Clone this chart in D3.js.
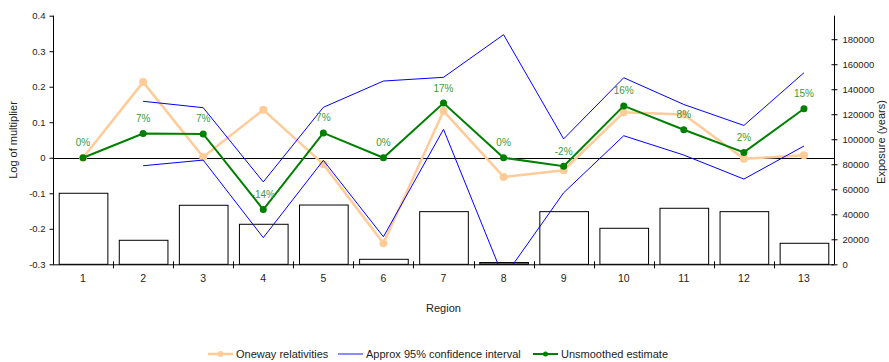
<!DOCTYPE html>
<html>
<head>
<meta charset="utf-8">
<script src="https://cdn.jsdelivr.net/npm/d3@7"></script>
<style>
  html, body { margin: 0; padding: 0; background: #fff; }
  svg { display: block; font-family: "Liberation Sans", Arial, sans-serif; }
</style>
</head>
<body>
<svg id="chart" width="889" height="362"></svg>
<script>
// Region factor analysis: log multipliers with confidence band, exposure as bars
const regions = ["1","2","3","4","5","6","7","8","9","10","11","12","13"];
const exposure = [56800, 19200, 47200, 32000, 47400, 4000, 42100, 1400, 42100, 28800, 44800, 42100, 16800];
const oneway = [0, 0.213, 0.002, 0.135, -0.018, -0.241, 0.1315, -0.054, -0.035, 0.128, 0.122, -0.003, 0.007];
const ciUpper = [null, 0.159, 0.141, -0.068, 0.142, 0.216, 0.2265, 0.3465, 0.053, 0.2254, 0.150, 0.091, 0.2394];
const ciLower = [null, -0.0225, -0.0065, -0.225, -0.0073, -0.2225, 0.080, -0.338, -0.0986, 0.062, 0.0076, -0.060, 0.033];
const unsmoothed = [0, 0.068, 0.067, -0.146, 0.070, 0, 0.154, 0, -0.024, 0.146, 0.079, 0.015, 0.138];
const leftTicks = [-0.3, -0.2, -0.1, 0, 0.1, 0.2, 0.3, 0.4];
const rightTicks = [0, 20000, 40000, 60000, 80000, 100000, 120000, 140000, 160000, 180000];
const legendItems = ["Oneway relativities", "Approx 95% confidence interval", "Unsmoothed estimate"];

const C_ORANGE = "#FFCC99", C_BLUE = "#0000FF", C_GREEN = "#008000", C_LABEL = "#3A9A3A";
const plot = { left: 53, right: 834, top: 15.7, bottom: 264.3 };

const svg = d3.select("#chart");

const x = d3.scaleBand().domain(regions)
  .range([plot.left, plot.right]).paddingInner(0.19).paddingOuter(0.095);
const cx = r => x(r) + x.bandwidth() / 2;
const y = d3.scaleLinear().domain([-0.3, 0.4]).range([plot.bottom, plot.top]);
const y2 = d3.scaleLinear().domain([0, 198800]).range([plot.bottom, plot.top]);

svg.append("defs").append("clipPath").attr("id", "plotClip")
  .append("rect").attr("x", plot.left).attr("y", plot.top)
  .attr("width", plot.right - plot.left).attr("height", plot.bottom - plot.top);

// exposure bars
svg.append("g").selectAll("rect").data(regions).join("rect")
  .attr("x", d => x(d) + 0.5)
  .attr("y", (d, i) => y2(exposure[i]))
  .attr("width", x.bandwidth())
  .attr("height", (d, i) => plot.bottom - y2(exposure[i]))
  .attr("fill", (d, i) => exposure[i] < 3000 ? "#777" : "#fff")
  .attr("stroke", "#000").attr("stroke-width", 1);

// zero reference line
svg.append("line")
  .attr("x1", plot.left).attr("x2", plot.right)
  .attr("y1", Math.round(y(0)) + 0.5).attr("y2", Math.round(y(0)) + 0.5)
  .attr("stroke", "#000").attr("stroke-width", 1);

const lines = svg.append("g").attr("clip-path", "url(#plotClip)");
const lineGen = vals => d3.line()
  .defined((d, i) => vals[i] !== null)
  .x(d => cx(d)).y((d, i) => y(vals[i]))(regions);

// oneway relativities
lines.append("path").attr("d", lineGen(oneway))
  .attr("fill", "none").attr("stroke", C_ORANGE).attr("stroke-width", 2.5);
lines.append("g").selectAll("circle").data(regions).join("circle")
  .attr("cx", d => cx(d)).attr("cy", (d, i) => y(oneway[i])).attr("r", 4)
  .attr("fill", C_ORANGE);

// confidence band
[ciUpper, ciLower].forEach(vals => {
  lines.append("path").attr("d", lineGen(vals))
    .attr("fill", "none").attr("stroke", C_BLUE).attr("stroke-width", 1);
});

// unsmoothed estimate
lines.append("path").attr("d", lineGen(unsmoothed))
  .attr("fill", "none").attr("stroke", C_GREEN).attr("stroke-width", 2);
lines.append("g").selectAll("circle").data(regions).join("circle")
  .attr("cx", d => cx(d)).attr("cy", (d, i) => y(unsmoothed[i])).attr("r", 3.5)
  .attr("fill", C_GREEN);

// percentage change labels
const pct = v => Math.round((Math.exp(v) - 1) * 100) + "%";
svg.append("g").selectAll("text").data(regions).join("text")
  .attr("x", d => cx(d)).attr("y", (d, i) => y(unsmoothed[i]) - 15)
  .attr("text-anchor", "middle").attr("dominant-baseline", "central")
  .attr("font-size", 10).attr("fill", C_LABEL)
  .text((d, i) => pct(unsmoothed[i]));

// left axis
const gl = svg.append("g").attr("transform", `translate(${plot.left + 0.5},0)`)
  .call(d3.axisLeft(y).tickValues(leftTicks).tickSize(4).tickPadding(4)
    .tickFormat(v => v === 0 ? "0" : v.toFixed(1)));
gl.select(".domain").attr("d", `M0,${plot.top}V${plot.bottom}`);

// right axis
const gr = svg.append("g").attr("transform", `translate(${plot.right + 0.5},0)`)
  .call(d3.axisRight(y2).tickValues(rightTicks).tickSize(3).tickPadding(5).tickFormat(d3.format("d")));
gr.select(".domain").attr("d", `M0,${plot.top}V${plot.bottom}`);
gr.selectAll(".tick line").attr("x1", -3);

// bottom axis: labels at centres, tick marks at category boundaries
const gb = svg.append("g").attr("transform", `translate(0,${plot.bottom})`)
  .call(d3.axisBottom(x).tickSize(0).tickPadding(10));
gb.select(".domain").attr("d", `M${plot.left},0.5H${plot.right}`);
const bounds = regions.map(r => x(r) - x.step() * x.paddingInner() / 2).slice(1);
gb.append("g").selectAll("line").data(bounds).join("line")
  .attr("x1", d => Math.round(d) + 0.5).attr("x2", d => Math.round(d) + 0.5)
  .attr("y1", -3).attr("y2", 4).attr("stroke", "#000");

[gl, gr, gb].forEach(g => {
  g.selectAll(".domain").attr("stroke", "#000");
  g.selectAll(".tick line").attr("stroke", "#000");
  g.selectAll(".tick text").attr("font-size", 9.5).attr("fill", "#222")
    .attr("font-family", "Liberation Sans, Arial, sans-serif");
});
gb.selectAll(".tick text").attr("font-size", 10.5);

// axis titles
svg.append("text").attr("x", (plot.left + plot.right) / 2).attr("y", 312)
  .attr("text-anchor", "middle").attr("font-size", 11).attr("fill", "#222").text("Region");
svg.append("text").attr("transform", `translate(17,140) rotate(-90)`)
  .attr("text-anchor", "middle").attr("font-size", 11).attr("fill", "#222").text("Log of multiplier");
svg.append("text").attr("transform", `translate(885,142) rotate(-90)`)
  .attr("text-anchor", "middle").attr("font-size", 11).attr("fill", "#222").text("Exposure (years)");

// legend
const legendX = [208, 338, 533];
const legendStyle = [
  { color: C_ORANGE, w: 2.5, r: 3 },
  { color: "#6666FF", w: 1.5, r: 0 },
  { color: C_GREEN, w: 2, r: 2.5 }
];
const lg = svg.append("g").selectAll("g").data(legendItems).join("g")
  .attr("transform", (d, i) => `translate(${legendX[i]},354)`);
lg.append("line").attr("x1", 0).attr("x2", 25).attr("y1", 0).attr("y2", 0)
  .attr("stroke", (d, i) => legendStyle[i].color).attr("stroke-width", (d, i) => legendStyle[i].w);
lg.filter((d, i) => legendStyle[i].r > 0).append("circle")
  .attr("cx", 12.5).attr("cy", 0).attr("r", (d, i) => legendStyle[legendItems.indexOf(d)].r)
  .attr("fill", (d) => legendStyle[legendItems.indexOf(d)].color);
lg.append("text").attr("x", 28).attr("y", 0).attr("dominant-baseline", "central")
  .attr("font-size", 11).attr("fill", "#222").text(d => d);
</script>
</body>
</html>
